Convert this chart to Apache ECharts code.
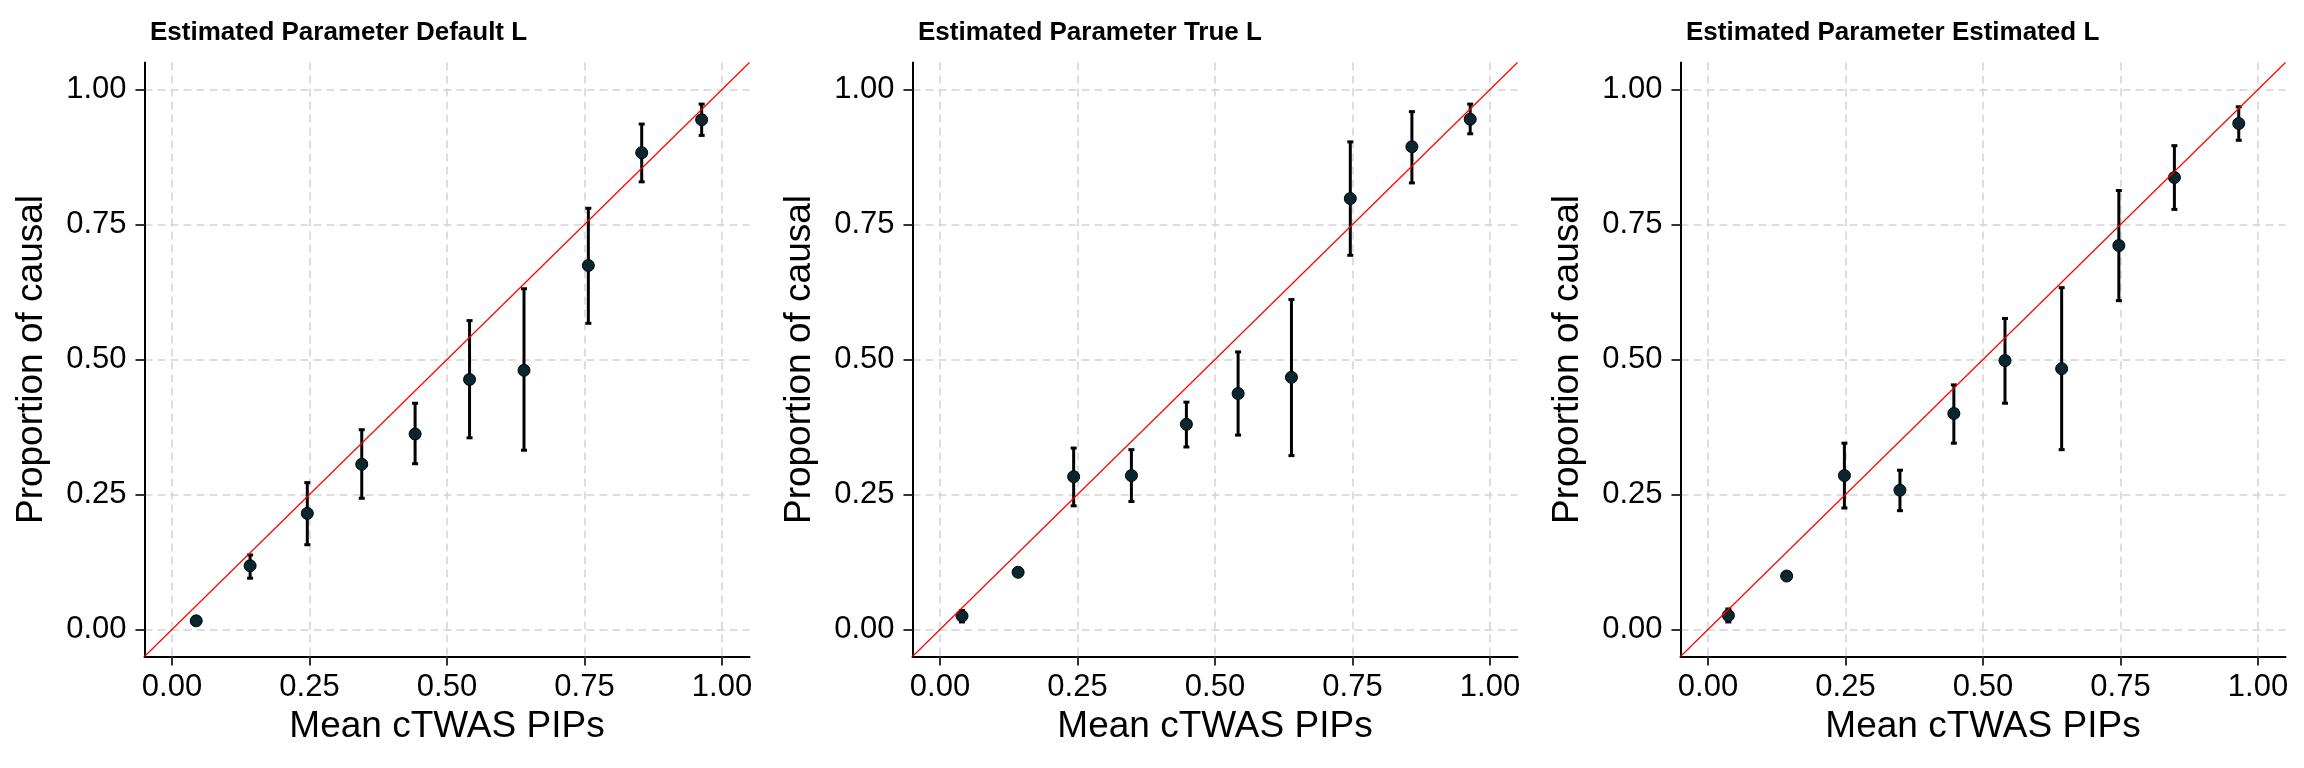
<!DOCTYPE html>
<html>
<head>
<meta charset="utf-8">
<script src="https://cdn.jsdelivr.net/npm/echarts@6/dist/echarts.min.js"></script>
<style>
  html, body { margin: 0; padding: 0; background: #fff; }
  #chart { width: 2304px; height: 768px; }
</style>
</head>
<body>
<div id="chart"></div>
<script>
// panel titles and axis ticks
const panelTitles = ['Estimated Parameter Default L', 'Estimated Parameter True L', 'Estimated Parameter Estimated L'];
const tickValues = [0, 0.25, 0.5, 0.75, 1];
const axisRange = [-0.05, 1.05];

// Default L
const defaultX = [0.044, 0.142, 0.246, 0.345, 0.442, 0.541, 0.640, 0.757, 0.854, 0.963];
const defaultY = [0.016, 0.118, 0.215, 0.306, 0.362, 0.463, 0.480, 0.674, 0.883, 0.944];
const defaultLo = [0.012, 0.095, 0.157, 0.243, 0.307, 0.355, 0.332, 0.567, 0.829, 0.915];
const defaultHi = [0.020, 0.138, 0.272, 0.370, 0.419, 0.572, 0.631, 0.780, 0.936, 0.973];

// True L
const trueX = [0.040, 0.142, 0.243, 0.348, 0.448, 0.542, 0.639, 0.746, 0.858, 0.964];
const trueY = [0.025, 0.106, 0.283, 0.285, 0.380, 0.437, 0.467, 0.798, 0.894, 0.945];
const trueLo = [0.014, 0.100, 0.229, 0.237, 0.338, 0.360, 0.322, 0.693, 0.827, 0.918];
const trueHi = [0.035, 0.112, 0.336, 0.333, 0.421, 0.514, 0.611, 0.903, 0.959, 0.973];

// Estimated L
const estX = [0.037, 0.143, 0.248, 0.349, 0.447, 0.540, 0.643, 0.747, 0.848, 0.965];
const estY = [0.026, 0.099, 0.285, 0.258, 0.400, 0.498, 0.483, 0.711, 0.837, 0.937];
const estLo = [0.014, 0.093, 0.225, 0.220, 0.345, 0.419, 0.333, 0.609, 0.778, 0.906];
const estHi = [0.038, 0.105, 0.345, 0.295, 0.453, 0.576, 0.633, 0.813, 0.896, 0.968];

const panels = [
  { x: defaultX, y: defaultY, lo: defaultLo, hi: defaultHi },
  { x: trueX, y: trueY, lo: trueLo, hi: trueHi },
  { x: estX, y: estY, lo: estLo, hi: estHi }
];

const FONT = 'Liberation Sans';

// 误差线
function renderErr(params, api) {
  const x = api.value(0);
  const p1 = api.coord([x, api.value(1)]);
  const p2 = api.coord([x, api.value(2)]);
  const w = 3;
  const st = { stroke: '#000', lineWidth: 3 };
  return {
    type: 'group',
    children: [
      { type: 'line', shape: { x1: p1[0], y1: p1[1], x2: p2[0], y2: p2[1] }, style: st },
      { type: 'line', shape: { x1: p1[0] - w, y1: p1[1], x2: p1[0] + w, y2: p1[1] }, style: st },
      { type: 'line', shape: { x1: p2[0] - w, y1: p2[1], x2: p2[0] + w, y2: p2[1] }, style: st }
    ]
  };
}

function makeAxis(i, isX) {
  return {
    type: 'value',
    gridIndex: i,
    min: axisRange[0],
    max: axisRange[1],
    name: isX ? 'Mean cTWAS PIPs' : 'Proportion of causal',
    nameLocation: 'middle',
    nameGap: isX ? 52 : 94,
    nameTextStyle: { fontFamily: FONT, fontSize: 37, color: '#000' },
    axisLine: { show: true, onZero: false, lineStyle: { color: '#000', width: 2 } },
    axisTick: { show: true, length: 9, customValues: tickValues, lineStyle: { color: '#333', width: 2 } },
    axisLabel: {
      customValues: tickValues,
      fontFamily: FONT, fontSize: 31, color: '#000',
      margin: isX ? 15 : 18,
      formatter: v => v.toFixed(2)
    },
    splitLine: { show: true, lineStyle: { color: '#d4d4d4', width: 1.5, type: [8, 5] } }
  };
}

const grids = [], xAxes = [], yAxes = [], series = [], titles = [];
panels.forEach((p, i) => {
  const off = i * 768;
  grids.push({ left: 144.5 + off, top: 62.5, width: 605, height: 594, containLabel: false });
  xAxes.push(makeAxis(i, true));
  yAxes.push(makeAxis(i, false));
  titles.push({
    text: panelTitles[i],
    left: 145 + off,
    top: 15,
    textStyle: { fontFamily: FONT, fontSize: 26, fontWeight: 'bold', color: '#000' }
  });
  series.push({
    type: 'custom',
    xAxisIndex: i, yAxisIndex: i,
    renderItem: renderErr,
    encode: { x: 0, y: [1, 2] },
    data: p.x.map((x, k) => [x, p.lo[k], p.hi[k]]),
    z: 2
  });
  series.push({
    type: 'scatter',
    xAxisIndex: i, yAxisIndex: i,
    symbolSize: 12,
    itemStyle: { color: '#0a262e', borderColor: '#000', borderWidth: 1, opacity: 1 },
    data: p.x.map((x, k) => [x, p.y[k]]),
    z: 3
  });
  series.push({
    type: 'line',
    xAxisIndex: i, yAxisIndex: i,
    symbol: 'none',
    lineStyle: { color: '#ff0000', width: 1.2 },
    data: [[axisRange[0], axisRange[0]], [axisRange[1], axisRange[1]]],
    z: 4
  });
});

const chart = echarts.init(document.getElementById('chart'), null, { renderer: 'canvas' });
chart.setOption({
  backgroundColor: '#fff',
  animation: false,
  title: titles,
  grid: grids,
  xAxis: xAxes,
  yAxis: yAxes,
  series: series
});
</script>
</body>
</html>
